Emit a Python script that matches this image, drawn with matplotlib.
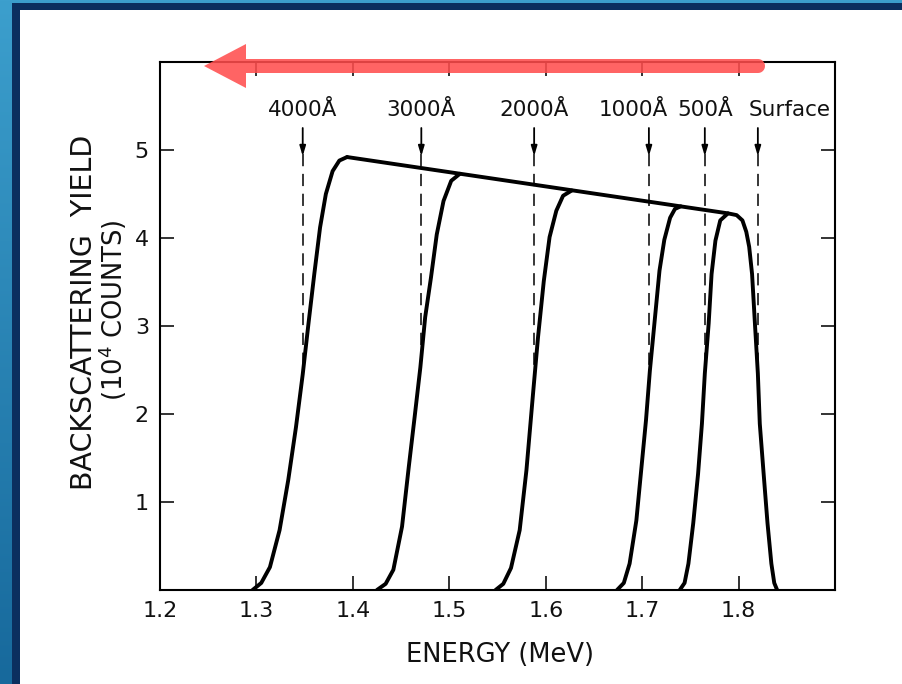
import numpy as np
import matplotlib
import matplotlib.pyplot as plt
from matplotlib.patches import Rectangle, Polygon
from matplotlib.colors import LinearSegmentedColormap

matplotlib.rcParams['font.family'] = ['DejaVu Sans']

# leading edges of the backscattering spectra (energy in MeV, yield in 10^4 counts)
e_4000 = [1.296, 1.305, 1.314, 1.324, 1.333, 1.341, 1.348, 1.354, 1.360, 1.366, 1.372, 1.379, 1.386, 1.394]
y_4000 = [0.00, 0.08, 0.26, 0.68, 1.25, 1.85, 2.45, 3.03, 3.59, 4.12, 4.50, 4.76, 4.88, 4.92]

e_3000 = [1.425, 1.434, 1.442, 1.451, 1.458, 1.464, 1.470, 1.475, 1.481, 1.487, 1.494, 1.502, 1.511]
y_3000 = [0.00, 0.07, 0.23, 0.72, 1.40, 1.96, 2.53, 3.10, 3.55, 4.04, 4.42, 4.65, 4.73]

e_2000 = [1.548, 1.556, 1.564, 1.573, 1.580, 1.587, 1.592, 1.598, 1.604, 1.611, 1.618, 1.627]
y_2000 = [0.00, 0.07, 0.25, 0.68, 1.36, 2.25, 2.87, 3.51, 4.01, 4.31, 4.48, 4.54]

e_1000 = [1.674, 1.681, 1.687, 1.694, 1.699, 1.704, 1.708, 1.713, 1.718, 1.723, 1.729, 1.734, 1.740]
y_1000 = [0.00, 0.08, 0.30, 0.79, 1.36, 1.93, 2.49, 3.06, 3.63, 3.98, 4.23, 4.33, 4.36]

e_500 = [1.739, 1.744, 1.748, 1.753, 1.758, 1.762, 1.765, 1.769, 1.772, 1.776, 1.781, 1.789]
y_500 = [0.00, 0.08, 0.30, 0.76, 1.32, 1.89, 2.46, 3.03, 3.59, 3.97, 4.20, 4.28]

# common plateau and surface (high-energy) edge
e_top = [1.394, 1.789, 1.798, 1.804, 1.808, 1.811, 1.814, 1.817, 1.820, 1.822, 1.826, 1.830, 1.834, 1.837, 1.840]
y_top = [4.92, 4.28, 4.26, 4.20, 4.07, 3.90, 3.59, 3.02, 2.46, 1.89, 1.32, 0.76, 0.30, 0.08, 0.00]

depth_labels = ['4000Å', '3000Å', '2000Å', '1000Å', '500Å', 'Surface']
depth_energy = [1.348, 1.471, 1.588, 1.707, 1.765, 1.820]

xticks = [1.2, 1.3, 1.4, 1.5, 1.6, 1.7, 1.8]
yticks = [1, 2, 3, 4, 5]

W, H = 902, 684


def fx(x):
    return x / W


def fy(y):
    return 1 - y / H


fig = plt.figure(figsize=(W / 100, H / 100), dpi=100)

# slide frame behind the chart
bg = fig.add_axes([0, 0, 1, 1], zorder=-10)
bg.set_xlim(0, 1)
bg.set_ylim(0, 1)
bg.axis('off')
cmap = LinearSegmentedColormap.from_list('frame', ['#3c9fcd', '#17699c'])
bg.imshow(np.linspace(0, 1, 256).reshape(-1, 1), cmap=cmap, aspect='auto',
          extent=[0, 1, 0, 1])
bg.add_patch(Rectangle((fx(12), 0), 1, fy(3), color='#0b2f5f', lw=0))
bg.add_patch(Rectangle((fx(20), 0), 1, fy(10), color='white', lw=0))

ax = fig.add_axes([fx(160), fy(590), fx(835) - fx(160), fy(62) - fy(590)])
ax.set_xlim(1.2, 1.9)
ax.set_ylim(0, 6)

lw = 2.8
for e, y in [(e_4000, y_4000), (e_3000, y_3000), (e_2000, y_2000),
             (e_1000, y_1000), (e_500, y_500), (e_top, y_top)]:
    ax.plot(e, y, color='black', lw=lw, solid_capstyle='round', solid_joinstyle='round')

label_shift = [0, 0, 0, -16, 0, 32]
for lab, e, dx in zip(depth_labels, depth_energy, label_shift):
    ax.plot([e, e], [4.95, 2.5], color='black', lw=1.1, dashes=(8, 5))
    ax.annotate('', xy=(e, 4.93), xytext=(e, 5.25),
                arrowprops=dict(arrowstyle='-|>,head_width=0.18,head_length=0.6',
                                color='black', lw=1.3, shrinkA=0, shrinkB=0))
    ax.annotate(lab, xy=(e, 5.46), xytext=(dx, 0), textcoords='offset pixels',
                ha='center', va='center', fontsize=15.5, color='#111111')

ax.set_xticks(xticks)
ax.set_xticklabels([f'{t:.1f}' for t in xticks])
ax.set_yticks(yticks)
ax.set_yticklabels([str(t) for t in yticks])
ax.tick_params(direction='in', length=10, width=1.2, top=True, right=True,
               labelsize=16, pad=8, colors='#111111')
for s in ax.spines.values():
    s.set_linewidth(1.5)

fig.text(fx(84), fy(312), 'BACKSCATTERING  YIELD', rotation=90,
         ha='center', va='center', fontsize=20.5, color='#111111')
fig.text(fx(113), fy(310), '(10$^4$ COUNTS)', rotation=90,
         ha='center', va='center', fontsize=18.5, color='#111111')
fig.text(fx(500), fy(655), 'ENERGY (MeV)', ha='center', va='center',
         fontsize=18.5, color='#111111')

# red arrow drawn over the figure (depth direction)
ang = np.linspace(np.pi / 2, -np.pi / 2, 20)
cap = [(fx(758 + 7 * np.cos(a)), fy(66 - 7 * np.sin(a))) for a in ang]
pts = ([(fx(204), fy(66)), (fx(246), fy(44)), (fx(246), fy(59)), (fx(758), fy(59))]
       + cap + [(fx(758), fy(73)), (fx(246), fy(73)), (fx(246), fy(88))])
fig.patches.append(Polygon(pts, closed=True, transform=fig.transFigure,
                           facecolor='#ff4d4d', alpha=0.87, lw=0, zorder=20))

fig.savefig('out.png', dpi=100)
